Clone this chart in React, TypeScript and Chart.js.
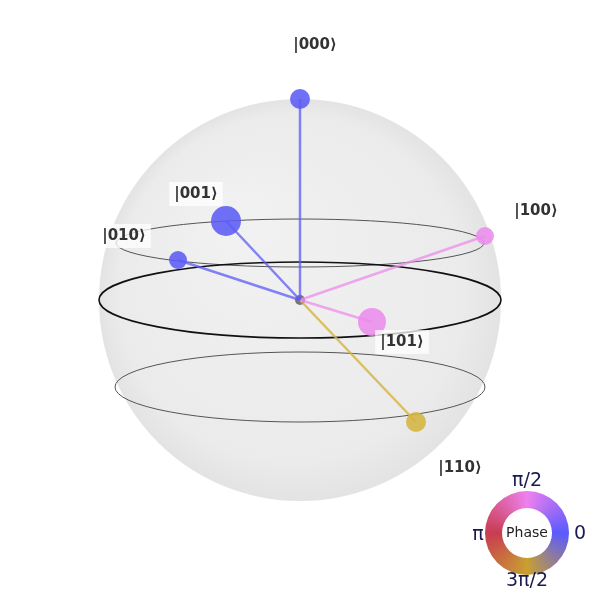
import { useEffect, useRef } from "react";
import { Chart, registerables } from "chart.js";
Chart.register(...registerables);

// basis states and where they sit on the projected sphere
const states = ["|000⟩", "|001⟩", "|010⟩", "|100⟩", "|101⟩", "|110⟩"];
const pointX = [300, 226, 178, 485, 372, 416];
const pointY = [99, 221, 260, 236, 322, 422];
const pointR = [10, 15, 9, 9, 14, 10];
const pointColor = ["#5c5cf5", "#5c5cf5", "#5c5cf5", "#ec8cec", "#ec8cec", "#d4b440"];
const lineColor = ["rgba(92,92,245,0.75)", "rgba(92,92,245,0.75)", "rgba(92,92,245,0.75)", "rgba(236,140,236,0.75)", "rgba(236,140,236,0.75)", "rgba(212,180,64,0.8)"];
const labelX = [315, 196, 124, 536, 402, 460];
const labelY = [45, 194, 236, 211, 342, 468];
const labelBox = [false, true, true, false, true, false];

// sphere and latitude rings: [cx, cy, rx, ry, width, colour]
const sphere = { cx: 300, cy: 300, r: 201 };
const rings: [number, number, number, number, number, string][] = [
  [300, 243, 184, 24, 1, "#555"],
  [300, 300, 201, 38, 1.6, "#111"],
  [300, 387, 185, 35, 1, "#555"],
];

const phaseLabels = ["0", "π/2", "π", "3π/2"];

const decor = {
  id: "decor",
  beforeDatasetsDraw(chart: any) {
    const { ctx, scales } = chart;
    const X = (v: number) => scales.x.getPixelForValue(v);
    const Y = (v: number) => scales.y.getPixelForValue(v);
    const cx = X(sphere.cx), cy = Y(sphere.cy);
    const r = X(sphere.cx + sphere.r) - cx;
    ctx.save();
    const g = ctx.createRadialGradient(cx - r * 0.3, cy - r * 0.4, r * 0.1, cx, cy, r);
    g.addColorStop(0, "#f1f1f1");
    g.addColorStop(0.85, "#ebebeb");
    g.addColorStop(1, "#e3e3e3");
    ctx.fillStyle = g;
    ctx.beginPath();
    ctx.arc(cx, cy, r, 0, Math.PI * 2);
    ctx.fill();
    for (const [ex, ey, rx, ry, w, c] of rings) {
      ctx.beginPath();
      ctx.ellipse(X(ex), Y(ey), X(ex + rx) - X(ex), Y(ey + ry) - Y(ey), 0, 0, Math.PI * 2);
      ctx.lineWidth = w;
      ctx.strokeStyle = c;
      ctx.stroke();
    }
    ctx.restore();
  },
  afterDatasetsDraw(chart: any) {
    const { ctx, scales } = chart;
    const X = (v: number) => scales.x.getPixelForValue(v);
    const Y = (v: number) => scales.y.getPixelForValue(v);
    ctx.save();
    ctx.font = "bold 15px 'DejaVu Sans'";
    ctx.textAlign = "center";
    ctx.textBaseline = "middle";
    states.forEach((s, i) => {
      const x = X(labelX[i]), y = Y(labelY[i]);
      if (labelBox[i]) {
        const w = ctx.measureText(s).width + 10;
        ctx.fillStyle = "rgba(255,255,255,0.75)";
        ctx.fillRect(x - w / 2, y - 12, w, 24);
      }
      ctx.fillStyle = "#333";
      ctx.fillText(s, x, y);
    });
    // phase wheel
    const wx = X(527), wy = Y(533);
    const cg = ctx.createConicGradient(0, wx, wy);
    cg.addColorStop(0, "#5a5aff");
    cg.addColorStop(0.25, "#c8a030");
    cg.addColorStop(0.5, "#c83c50");
    cg.addColorStop(0.75, "#ee80ee");
    cg.addColorStop(1, "#5a5aff");
    ctx.beginPath();
    ctx.arc(wx, wy, 42, 0, Math.PI * 2);
    ctx.arc(wx, wy, 25, 0, Math.PI * 2, true);
    ctx.fillStyle = cg;
    ctx.fill();
    ctx.fillStyle = "#222";
    ctx.font = "14px 'DejaVu Sans'";
    ctx.fillText("Phase", wx, wy);
    ctx.fillStyle = "#1a1a50";
    ctx.font = "19px 'DejaVu Sans'";
    ctx.fillText(phaseLabels[0], wx + 53, wy + 1);
    ctx.fillText(phaseLabels[1], wx, wy - 52);
    ctx.fillText(phaseLabels[2], wx - 49, wy + 2);
    ctx.fillText(phaseLabels[3], wx, wy + 48);
    ctx.restore();
  },
};

export default function App() {
  const ref = useRef<HTMLCanvasElement>(null);
  useEffect(() => {
    const datasets: any[] = states.map((s, i) => ({
      type: "line",
      label: s + " line",
      data: [{ x: sphere.cx, y: sphere.cy }, { x: pointX[i], y: pointY[i] }],
      borderColor: lineColor[i],
      borderWidth: 2.5,
      pointRadius: 0,
    }));
    datasets.push({
      type: "scatter",
      label: "states",
      data: pointX.map((x, i) => ({ x, y: pointY[i] })),
      pointRadius: pointR,
      backgroundColor: pointColor.map((c) => c + "e0"),
      borderWidth: 0,
    });
    datasets.push({
      type: "scatter",
      label: "origin",
      data: [{ x: sphere.cx, y: sphere.cy }],
      pointRadius: 5,
      backgroundColor: "#777",
      borderWidth: 0,
    });
    const chart = new Chart(ref.current!, {
      type: "scatter",
      data: { datasets },
      options: {
        animation: false,
        responsive: true,
        maintainAspectRatio: false,
        layout: { padding: 0 },
        plugins: { legend: { display: false }, tooltip: { enabled: false } },
        // the chart area is inset by the largest point radius (15px), so the
        // range is trimmed to keep one data unit per pixel
        scales: {
          x: { type: "linear", min: 15, max: 585, display: false },
          y: { type: "linear", min: 15, max: 585, reverse: true, display: false },
        },
      },
      plugins: [decor],
    });
    return () => chart.destroy();
  }, []);
  return (
    <div style={{ position: "fixed", left: 0, top: 0, width: 600, height: 600, background: "#fff" }}>
      <canvas ref={ref} />
    </div>
  );
}
